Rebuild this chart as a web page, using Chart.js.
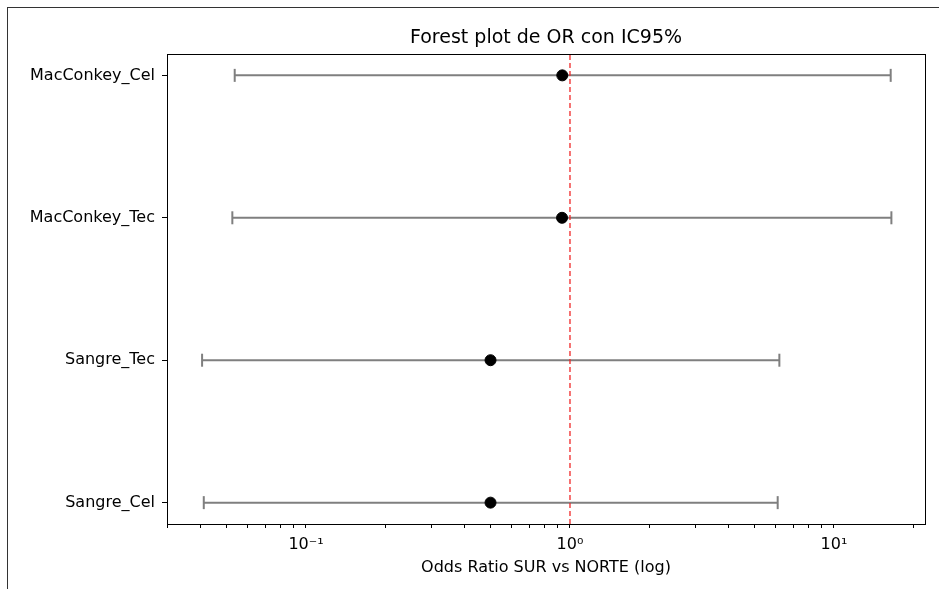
<!DOCTYPE html>
<html>
<head>
<meta charset="utf-8">
<script src="https://cdn.jsdelivr.net/npm/chart.js@4"></script>
<style>
  body { margin: 0; background: #fff; overflow: hidden; }
  #wrap { position: relative; width: 939px; height: 589px; overflow: hidden; }
  #frame { position: absolute; left: 7px; top: 7px; width: 960px; height: 620px; border-left: 1px solid #333; border-top: 1px solid #333; }
  #c { position: absolute; left: 0; top: 0; }
</style>
</head>
<body>
<div id="wrap">
  <div id="frame"></div>
  <canvas id="c" width="939" height="589"></canvas>
</div>
<script>
// bottom to top
const categories = ["Sangre_Cel", "Sangre_Tec", "MacConkey_Tec", "MacConkey_Cel"];
const oddsRatio = [0.50, 0.50, 0.933, 0.935];
const lowerCI = [0.0410, 0.0404, 0.0526, 0.0537];
const upperCI = [6.12, 6.21, 16.5, 16.4];

const majorTicks = [0.1, 1, 10];
const majorLabels = ["10\u207B\u00B9", "10\u2070", "10\u00B9"];
const chartTitle = "Forest plot de OR con IC95%";

const font = "'DejaVu Sans', sans-serif";

const errorSets = categories.map((c, i) => ({
  type: "line",
  label: c,
  data: [{ x: lowerCI[i], y: i }, { x: upperCI[i], y: i }],
  borderColor: "#7f7f7f",
  borderWidth: 2,
  pointStyle: "line",
  pointRotation: 90,
  pointRadius: 6.5,
  pointBorderColor: "#7f7f7f",
  pointBorderWidth: 2,
  order: 2,
}));

const dots = {
  type: "scatter",
  label: "OR",
  data: categories.map((c, i) => ({ x: oddsRatio[i], y: i })),
  backgroundColor: "#000",
  borderColor: "#000",
  pointRadius: 5.5,
  order: 1,
};

const refLine = {
  type: "line",
  label: "ref",
  data: [{ x: 1, y: -0.15 }, { x: 1, y: 3.15 }],
  borderColor: "#f02828",
  borderWidth: 1.3,
  borderDash: [5, 3],
  pointRadius: 0,
  order: 0,
};

// axes frame + title centred over the plot area (like matplotlib)
const boxPlugin = {
  id: "box",
  afterDraw(chart) {
    const { ctx, chartArea: a } = chart;
    ctx.save();
    ctx.strokeStyle = "#000";
    ctx.lineWidth = 1;
    ctx.strokeRect(a.left + 0.5, a.top + 0.5, a.right - a.left, a.bottom - a.top);
    ctx.fillStyle = "#000";
    ctx.font = "19px " + font;
    ctx.textAlign = "center";
    ctx.textBaseline = "middle";
    ctx.fillText(chartTitle, (a.left + a.right) / 2, 38);
    ctx.restore();
  },
};

new Chart(document.getElementById("c"), {
  data: { datasets: [...errorSets, dots, refLine] },
  plugins: [boxPlugin],
  options: {
    responsive: false,
    animation: false,
    layout: { padding: { left: 0, right: 14, top: 54, bottom: 0 } },
    plugins: {
      legend: { display: false },
      tooltip: { enabled: false },
      title: { display: false },
    },
    scales: {
      x: {
        type: "logarithmic",
        min: 0.02975,
        max: 22.12,
        afterBuildTicks(scale) {
          const t = [];
          for (let d = 0.01; d <= 10; d *= 10) {
            for (let k = 1; k <= 9; k++) {
              const v = +(k * d).toPrecision(3);
              if (v >= scale.min && v <= scale.max) t.push({ value: v });
            }
          }
          scale.ticks = t;
        },
        afterFit(scale) { scale.height = 65; },
        ticks: {
          autoSkip: false,
          maxRotation: 0,
          color: "#000",
          padding: 7,
          font: { family: font, size: 16 },
          callback(v) {
            const i = majorTicks.findIndex(m => Math.abs(m - v) < 1e-9);
            return i >= 0 ? majorLabels[i] : "";
          },
        },
        grid: {
          drawOnChartArea: false,
          drawTicks: true,
          tickLength: 4,
          tickColor: "#000",
          tickWidth: 1,
        },
        border: { color: "#000", width: 1 },
        title: {
          display: true,
          text: "Odds Ratio SUR vs NORTE (log)",
          color: "#000",
          font: { family: font, size: 16 },
          padding: { top: 4, bottom: 12 },
        },
      },
      y: {
        type: "linear",
        min: -0.15,
        max: 3.15,
        afterBuildTicks(scale) {
          scale.ticks = categories.map((c, i) => ({ value: i }));
        },
        afterFit(scale) { scale.width = 167; },
        ticks: {
          color: "#000",
          padding: 7,
          font: { family: font, size: 16 },
          callback(v) { return categories[v] || ""; },
        },
        grid: {
          drawOnChartArea: false,
          drawTicks: true,
          tickLength: 5,
          tickColor: "#000",
        },
        border: { color: "#000", width: 1 },
      },
    },
  },
});
</script>
</body>
</html>
